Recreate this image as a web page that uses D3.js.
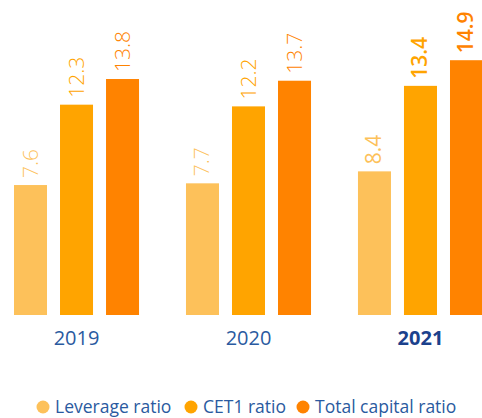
<!DOCTYPE html>
<html lang="en">
    <head>
        <meta charset="utf-8">
        <title>Capital ratios</title>
        <script type="text/javascript" src="https://d3js.org/d3.v7.min.js"></script>
        <style>
            body { margin: 0; background: #fff; }
            text { font-family: "Open Sans", sans-serif; }
        </style>
    </head>

    <body>

        <script type="text/javascript">

            var w = 482;
            var h = 418;

            // datos
            var years = ["2019", "2020", "2021"];
            var seriesNames = ["Leverage ratio", "CET1 ratio", "Total capital ratio"];
            var leverage = [7.6, 7.7, 8.4];
            var cet1 = [12.3, 12.2, 13.4];
            var totalCapital = [13.8, 13.7, 14.9];
            var colors = ["#FDC15A", "#FFA400", "#FF8300"];

            var series = [leverage, cet1, totalCapital];

            var svg = d3.select("body")
                .append("svg")
                .attr("width", w)
                .attr("height", h);

            // escala de grupos (años)
            var x0 = d3.scaleBand()
                .domain(years)
                .range([14, 483])
                .paddingInner(0.273)
                .paddingOuter(0);

            // escala dentro de cada grupo
            var x1 = d3.scaleBand()
                .domain(seriesNames)
                .range([0, x0.bandwidth()])
                .paddingInner(0.2826);

            var y = d3.scaleLinear()
                .domain([0, 15])
                .range([315, 315 - 15 * 17.1]);

            function rows(d, i){
                return seriesNames.map(function(s, j){ return {s: s, v: series[j][i], j: j, last: i == years.length - 1}; });
            }

            var groups = svg.selectAll("g.year")
                .data(years)
                .enter()
                .append("g")
                .attr("class", "year")
                .attr("transform", function(d){ return "translate(" + x0(d) + ",0)"; });

            groups.selectAll("rect")
                .data(rows)
                .enter()
                .append("rect")
                .attr("x", function(d){ return x1(d.s); })
                .attr("y", function(d){ return y(d.v); })
                .attr("width", x1.bandwidth())
                .attr("height", function(d){ return y(0) - y(d.v); })
                .attr("fill", function(d){ return colors[d.j]; });

            // etiquetas de valor giradas
            groups.selectAll("text.val")
                .data(rows)
                .enter()
                .append("text")
                .attr("class", "val")
                .attr("transform", function(d){
                    var cx = x1(d.s) + x1.bandwidth() / 2;
                    return "translate(" + (cx + 7) + "," + (y(d.v) - 7) + ") rotate(-90)";
                })
                .attr("text-anchor", "start")
                .attr("font-size", "21px")
                .attr("font-weight", function(d){
                    if (!d.last) return 300;
                    return d.j > 0 ? 600 : 400;
                })
                .attr("fill", function(d){ return colors[d.j]; })
                .text(function(d){ return d.v.toFixed(1); });

            // eje x (solo etiquetas)
            var xAxis = svg.append("g")
                .attr("transform", "translate(0,315)")
                .call(d3.axisBottom(x0).tickSize(0).tickPadding(10));
            xAxis.select(".domain").remove();
            xAxis.selectAll("text")
                .attr("font-family", "Open Sans, sans-serif")
                .attr("font-size", "20px")
                .attr("dy", "1em")
                .attr("fill", function(d){ return d == "2021" ? "#1B418C" : "#2A5AA0"; })
                .attr("font-weight", function(d){ return d == "2021" ? 700 : 400; });

            // leyenda
            var legendX = [43, 191, 303];
            var legend = svg.selectAll("g.legend")
                .data(seriesNames)
                .enter()
                .append("g")
                .attr("class", "legend")
                .attr("transform", function(d, i){ return "translate(" + legendX[i] + ",407)"; });

            legend.append("circle")
                .attr("r", 6.5)
                .attr("fill", function(d, i){ return colors[i]; });

            legend.append("text")
                .attr("x", 12)
                .attr("dy", "0.35em")
                .attr("font-size", "17.5px")
                .attr("fill", "#2A5AA0")
                .text(function(d){ return d; });

        </script>
    </body>
</html>
